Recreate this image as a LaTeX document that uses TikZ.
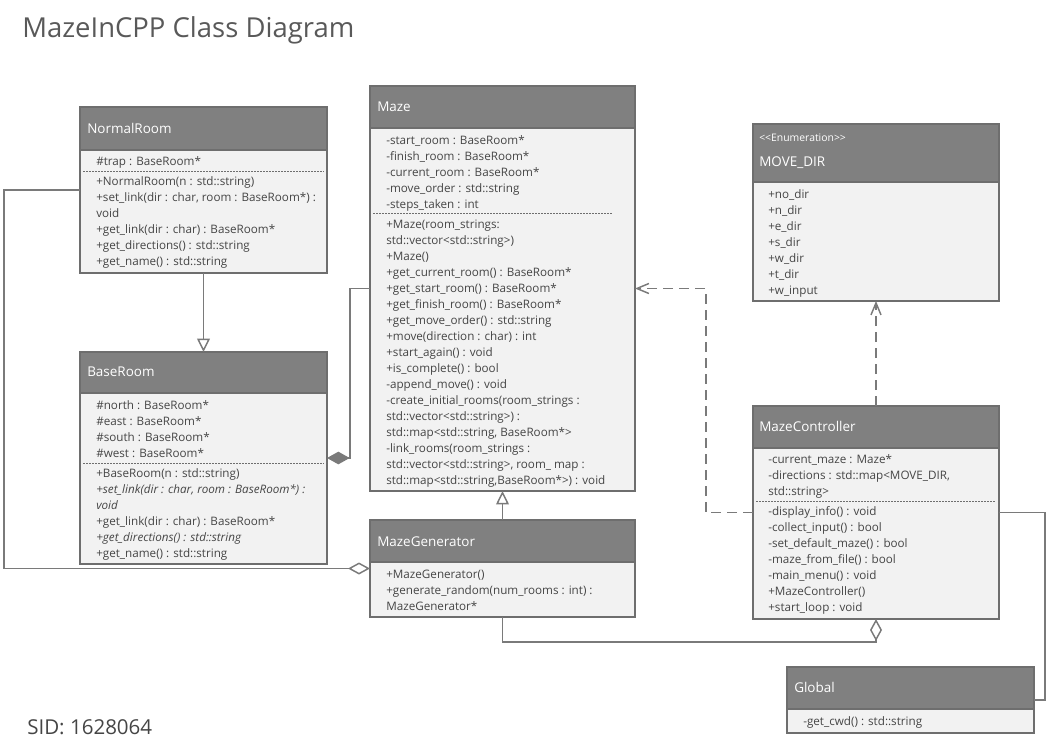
\documentclass[tikz,border=0pt]{standalone}
\usepackage{fontspec}
\setmainfont{Open Sans}
\usetikzlibrary{arrows.meta,fit}
\definecolor{headfill}{HTML}{808080}
\definecolor{bodyfill}{HTML}{F2F2F2}
\definecolor{bordergray}{HTML}{6E6E6E}
\definecolor{textgray}{HTML}{454545}
\definecolor{linegray}{HTML}{7A7A7A}
\definecolor{titlegray}{HTML}{595959}
\tikzset{
  cbody/.style={draw=bordergray, fill=bodyfill, line width=1.5pt, inner sep=0pt, outer sep=0pt},
  chead/.style={draw=bordergray, fill=headfill, line width=1.5pt, inner sep=0pt, outer sep=0pt},
  htext/.style={anchor=base west, yshift=-3.6pt, inner sep=0pt, text=white, font=\fontsize{10.1}{12}\selectfont},
  stereo/.style={anchor=base west, yshift=-2.8pt, inner sep=0pt, text=white, font=\fontsize{7.8}{9}\selectfont},
  btext/.style={anchor=north west, yshift=5.3pt, inner sep=0pt, align=left, text=textgray, font=\fontsize{8.75}{12}\selectfont},
  sepline/.style={draw=bordergray, line width=0.7pt, dash pattern=on 1.5pt off 0.75pt},
  conn/.style={draw=linegray, line width=1.1pt, line join=miter},
  dep/.style={conn, dash pattern=on 7.5pt off 4.5pt},
  gentip/.style={-{Triangle[fill=white, length=10pt, width=9.5pt, line width=1.1pt]}},
  deptip/.style={-{Straight Barb[length=9pt, width=7.5pt, line width=1.1pt]}},
  aggtip/.style={{Diamond[fill=white, length=16.5pt, width=9pt, line width=1.1pt]}-},
  comptip/.style={{Diamond[fill=linegray, length=17pt, width=9.5pt, line width=1.1pt]}-},
}
\newcommand\umlbox[6]{%
  \node[cbody, fit={(#2,#3)(#4,#5)}] (#1) {};
  \node[chead, fit={(#2,#3)(#4,#6)}] (#1h) {};
}
\begin{document}
\begin{tikzpicture}[x=0.75pt,y=-0.75pt]
\useasboundingbox (0,0) rectangle (1047,754);

% title
\node[anchor=base west, inner sep=0pt, text=titlegray, font=\fontsize{20.6}{24}\selectfont] (title) at (22,37) {MazeInCPP Class Diagram};
\node[anchor=base west, inner sep=0pt, text=textgray, font=\fontsize{15.4}{18}\selectfont] (sid) at (27,734) {SID: 1628064};

% NormalRoom
\umlbox{nr}{80}{107}{327}{273}{150}
\node[htext] (nrt) at (87,129) {NormalRoom};
\node[btext] (nra) at (96,161) {\strut\#trap : BaseRoom*};
\draw[sepline] (83,171) -- (324,171);
\node[btext] (nrm) at (96,181) {\strut+NormalRoom(n : std::string)\\
+set\_link(dir : char, room : BaseRoom*) :\\
void\\
+get\_link(dir : char) : BaseRoom*\\
+get\_directions() : std::string\\
+get\_name() : std::string};

% BaseRoom
\umlbox{br}{80}{352}{327}{564}{393}
\node[htext] (brt) at (87,372) {BaseRoom};
\node[btext] (bra) at (96,405) {\strut\#north : BaseRoom*\\
\#east : BaseRoom*\\
\#south : BaseRoom*\\
\#west : BaseRoom*};
\draw[sepline] (83,463) -- (324,463);
\node[btext] (brm) at (96,473) {\strut+BaseRoom(n : std::string)\\
\textit{+set\_link(dir : char, room : BaseRoom*) :}\\
\textit{void}\\
+get\_link(dir : char) : BaseRoom*\\
\textit{+get\_directions() : std::string}\\
+get\_name() : std::string};

% Maze
\umlbox{mz}{370}{86}{635}{491}{128}
\node[htext] (mzt) at (377,107) {Maze};
\node[btext] (mza) at (386,140) {\strut-start\_room : BaseRoom*\\
-finish\_room : BaseRoom*\\
-current\_room : BaseRoom*\\
-move\_order : std::string\\
-steps\_taken : int};
\draw[sepline] (373,213) -- (612,213);
\node[btext] (mzm) at (386,224) {\strut+Maze(room\_strings:\\
std::vector<std::string>)\\
+Maze()\\
+get\_current\_room() : BaseRoom*\\
+get\_start\_room() : BaseRoom*\\
+get\_finish\_room() : BaseRoom*\\
+get\_move\_order() : std::string\\
+move(direction : char) : int\\
+start\_again() : void\\
+is\_complete() : bool\\
-append\_move() : void\\
-create\_initial\_rooms(room\_strings :\\
std::vector<std::string>) :\\
std::map<std::string, BaseRoom*>\\
-link\_rooms(room\_strings :\\
std::vector<std::string>, room\_ map :\\
std::map<std::string,BaseRoom*>) : void};

% MazeGenerator
\umlbox{mg}{370}{520}{635}{617}{562}
\node[htext] (mgt) at (377,542) {MazeGenerator};
\node[btext] (mgm) at (386,574) {\strut+MazeGenerator()\\
+generate\_random(num\_rooms : int) :\\
MazeGenerator*};

% MOVE_DIR
\umlbox{md}{753}{124}{999}{301}{182}
\node[stereo] (mds) at (759,138) {<{}<Enumeration>{}>};
\node[htext] (mdt) at (759,162) {MOVE\_DIR};
\node[btext] (mda) at (768,194) {\strut+no\_dir\\
+n\_dir\\
+e\_dir\\
+s\_dir\\
+w\_dir\\
+t\_dir\\
+w\_input};

% MazeController
\umlbox{mc}{753}{406}{999}{619}{448}
\node[htext] (mct) at (759,427) {MazeController};
\node[btext] (mca) at (768,459) {\strut-current\_maze : Maze*\\
-directions : std::map<MOVE\_DIR,\\
std::string>};
\draw[sepline] (756,501) -- (996,501);
\node[btext] (mcm) at (768,511) {\strut-display\_info() : void\\
-collect\_input() : bool\\
-set\_default\_maze() : bool\\
-maze\_from\_file() : bool\\
-main\_menu() : void\\
+MazeController()\\
+start\_loop : void};

% Global
\umlbox{gl}{787}{667}{1034}{733}{709}
\node[htext] (glt) at (794,688) {Global};
\node[btext] (glm) at (803,721) {\strut-get\_cwd() : std::string};

% helper coordinates
\coordinate (k1) at (4,0);
\coordinate (k2) at (350,0);
\coordinate (k3) at (706,0);
\coordinate (k4) at (0,642);
\coordinate (k5) at (1045,0);

% connectors
\draw[conn, gentip] (nr.south) -- (br.north);
\draw[conn, gentip] (mg.north) -- (mz.south);
\draw[conn, aggtip] (mg.west) -- (mg.west -| k1) -- (nr.west -| k1) -- (nr.west);
\draw[conn, comptip] (br.east) -- (br.east -| k2) -- (mz.west -| k2) -- (mz.west);
\draw[dep, deptip] (mc.west) -- (mc.west -| k3) -- (mz.east -| k3) -- (mz.east);
\draw[dep, deptip] (mc.north) -- (md.south);
\draw[conn, aggtip] (mc.south) -- (mc.south |- k4) -- (mg.south |- k4) -- (mg.south);
\draw[conn] (mc.east) -- (mc.east -| k5) -- (gl.east -| k5) -- (gl.east);
\end{tikzpicture}
\end{document}
